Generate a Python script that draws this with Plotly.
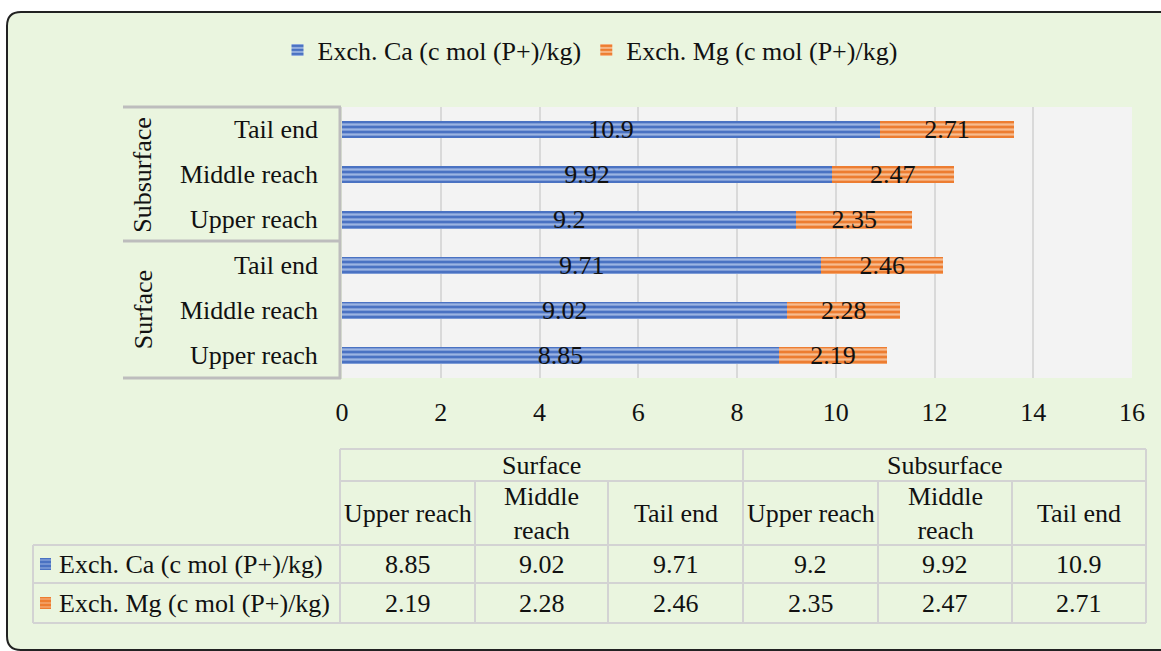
import plotly.graph_objects as go

# ---------------- data ----------------
groups = ["Surface", "Surface", "Surface", "Subsurface", "Subsurface", "Subsurface"]
sites = ["Upper reach", "Middle reach", "Tail end", "Upper reach", "Middle reach", "Tail end"]
ca = [8.85, 9.02, 9.71, 9.2, 9.92, 10.9]
mg = [2.19, 2.28, 2.46, 2.35, 2.47, 2.71]
series_names = ["Exch. Ca (c mol (P+)/kg)", "Exch. Mg (c mol (P+)/kg)"]
x_ticks = [0, 2, 4, 6, 8, 10, 12, 14, 16]

W, H = 1161, 651
FONT = "Liberation Serif, Times New Roman, serif"
FS = 26
TXT = "#111111"

def P(x):
    return x / W

def Q(y):
    return 1 - y / H

cats = [f"{g}|{s}" for g, s in zip(groups, sites)]

blue_dark, blue_light = "#4a72c2", "#9bb4e2"
orange_dark, orange_light = "#ed7d31", "#f7bc8f"

fig = go.Figure()
for vals, name, dk, lt in [(ca, series_names[0], blue_dark, blue_light),
                           (mg, series_names[1], orange_dark, orange_light)]:
    fig.add_trace(go.Bar(
        y=cats, x=vals, name=name, orientation="h", width=0.38,
        marker=dict(color=dk, line=dict(width=0),
                    pattern=dict(shape="-", fgcolor=lt, bgcolor=dk, size=5, solidity=0.45)),
        text=[str(v) for v in vals], textposition="inside", insidetextanchor="middle",
        textangle=0, constraintext="none",
        textfont=dict(family=FONT, size=FS, color=TXT),
    ))

shapes = []
# outer rounded frame with light green fill (right side runs off the picture)
path = (f"M {P(7)},{Q(26)} Q {P(7)},{Q(12)} {P(21)},{Q(12)} "
        f"L {P(1300)},{Q(12)} L {P(1300)},{Q(650)} L {P(21)},{Q(650)} "
        f"Q {P(7)},{Q(650)} {P(7)},{Q(636)} Z")
shapes.append(dict(type="path", xref="paper", yref="paper", path=path,
                   fillcolor="#eaf5df", line=dict(color="#222222", width=2), layer="below"))
# plot area background
shapes.append(dict(type="rect", xref="paper", yref="paper", x0=P(342), x1=P(1132), y0=Q(378), y1=Q(107),
                   fillcolor="#f3f3f3", line=dict(width=0), layer="below"))

# category box lines
box_col = "#bdbdbd"
for yy in [107, 241, 378]:
    shapes.append(dict(type="line", xref="paper", yref="paper", x0=P(123), x1=P(341), y0=Q(yy), y1=Q(yy),
                       line=dict(color=box_col, width=3)))
shapes.append(dict(type="line", xref="paper", yref="paper", x0=P(340), x1=P(340), y0=Q(107), y1=Q(379),
                   line=dict(color=box_col, width=3)))

# table lines
tcol = "#d3d3d3"
def hline(y, x0, x1):
    shapes.append(dict(type="line", xref="paper", yref="paper", x0=P(x0), x1=P(x1), y0=Q(y), y1=Q(y),
                       line=dict(color=tcol, width=2)))
def vline(x, y0, y1):
    shapes.append(dict(type="line", xref="paper", yref="paper", x0=P(x), x1=P(x), y0=Q(y0), y1=Q(y1),
                       line=dict(color=tcol, width=2)))
hline(449, 340, 1146)
hline(481, 340, 1146)
for yy in [545, 583, 623]:
    hline(yy, 33, 1146)
vline(33, 545, 623)
for xx in [340, 743, 1146]:
    vline(xx, 449, 623)
for xx in [475, 608, 878, 1012]:
    vline(xx, 481, 623)

annotations = []
def note(x, y, text, xanchor="center", **kw):
    d = dict(x=x, y=y, xref="paper", yref="paper", text=text, showarrow=False,
             xanchor=xanchor, yanchor="middle", font=dict(family=FONT, size=FS, color=TXT))
    d.update(kw)
    annotations.append(d)

# category labels
for c, s in zip(cats, sites):
    note(P(320), c, s, xanchor="right", yref="y")
# group labels (rotated)
for g, mid in [("Surface", cats[1]), ("Subsurface", cats[4])]:
    note(P(143), mid, g, yref="y", textangle=-90)

# table content
col_edges = [340, 475, 608, 743, 878, 1012, 1146]
col_centers = [(col_edges[i] + col_edges[i + 1]) / 2 for i in range(6)]
note(P(541.5), Q(465), "Surface")
note(P(944.5), Q(465), "Subsurface")
for cx, s in zip(col_centers, sites):
    label = s.replace("Middle reach", "Middle<br>reach")
    note(P(cx), Q(513), label)
for row_y, vals, name, dk, lt in [(564, ca, series_names[0], blue_dark, blue_light),
                                   (603, mg, series_names[1], orange_dark, orange_light)]:
    for cx, v in zip(col_centers, vals):
        note(P(cx), Q(row_y), str(v))
    note(P(57), Q(row_y), name, xanchor="left")
    shapes.append(dict(type="rect", xref="paper", yref="paper", x0=P(40), x1=P(51), y0=Q(row_y + 6),
                       y1=Q(row_y - 6), fillcolor=dk, line=dict(width=0)))
    for k in range(3):
        yy = row_y - 4 + 4 * k
        shapes.append(dict(type="line", xref="paper", yref="paper", x0=P(40), x1=P(51), y0=Q(yy), y1=Q(yy),
                           line=dict(color=lt, width=1)))

fig.update_layout(
    template="none",
    width=W, height=H, autosize=False,
    margin=dict(l=0, r=0, t=0, b=0, pad=0, autoexpand=False),
    paper_bgcolor="white", plot_bgcolor="#f3f3f3",
    barmode="stack", bargap=0.6,
    font=dict(family=FONT, size=FS, color=TXT),
    xaxis=dict(domain=[P(342), P(1132)], range=[0, 16], tickvals=x_ticks, showgrid=True,
               gridcolor="#d9d9d9", gridwidth=1.5, zeroline=False, showline=False, automargin=False,
               tickfont=dict(family=FONT, size=FS, color=TXT), ticks="", ticklabelstandoff=16,
               fixedrange=True),
    yaxis=dict(domain=[Q(378), Q(107)], type="category", categoryorder="array", categoryarray=cats,
               range=[-0.5, 5.5], showticklabels=False, showgrid=False, zeroline=False, ticks="",
               automargin=False, fixedrange=True),
    legend=dict(orientation="h", x=P(590), xanchor="center", y=Q(50), yanchor="middle",
                font=dict(family=FONT, size=FS, color=TXT), bgcolor="rgba(0,0,0,0)",
                itemwidth=30, traceorder="normal", borderwidth=0),
    shapes=shapes, annotations=annotations,
)

fig.write_html("out.html", config={"displayModeBar": False},
               post_script="document.body.style.margin='0px';document.body.style.overflow='hidden';")
